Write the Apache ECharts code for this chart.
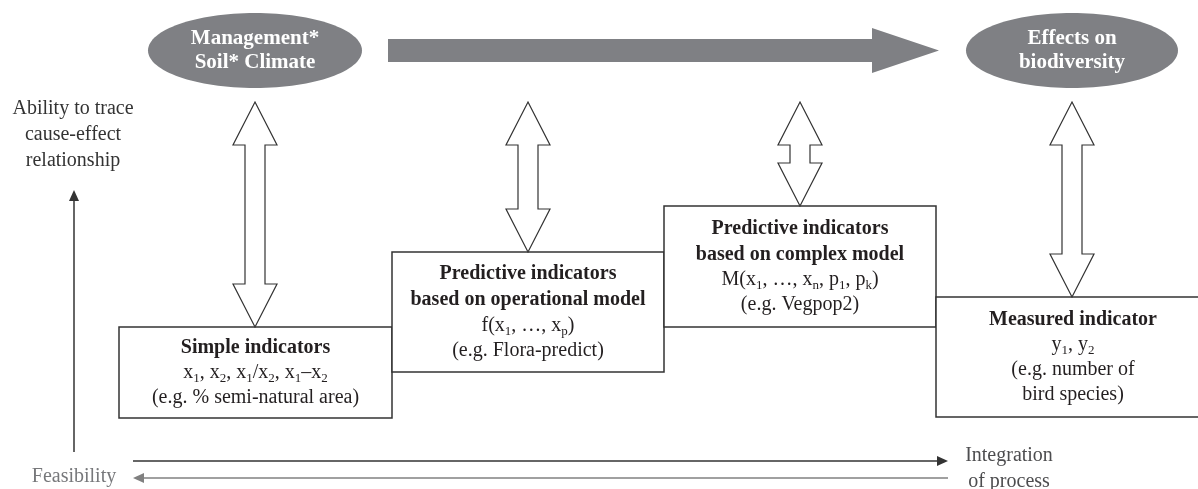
<!DOCTYPE html>
<html>
<head>
<meta charset="utf-8">
<title>Indicators diagram</title>
<script src="https://cdn.jsdelivr.net/npm/echarts@6/dist/echarts.min.js"></script>
<style>
  html, body { margin: 0; padding: 0; background: #fff; }
  #chart { width: 1198px; height: 489px; }
</style>
</head>
<body>
<div id="chart"></div>
<script>
// diagram units: x to the right, y downwards (the y axis is inverted)
const boxNames = [
  "Simple indicators",
  "Predictive indicators\nbased on operational model",
  "Predictive indicators\nbased on complex model",
  "Measured indicator"
];
const boxFormulas = [
  "x{s|1}, x{s|2}, x{s|1}/x{s|2}, x{s|1}–x{s|2}",
  "f(x{s|1}, …, x{s|p})",
  "M(x{s|1}, …, x{s|n}, p{s|1}, p{s|k})",
  "y{s|1}, y{s|2}"
];
const boxExamples = [
  "(e.g. % semi-natural area)",
  "(e.g. Flora-predict)",
  "(e.g. Vegpop2)",
  "(e.g. number of\nbird species)"
];
const boxLeft = [119, 392, 664, 936];
const boxRight = [392, 664, 936, 1210];
const boxTop = [327, 252, 206, 297];
const boxBottom = [418, 372, 327, 417];

// hollow double arrows between the ovals and the boxes
const linkX = [255, 528, 800, 1072];
const linkTop = [102, 102, 102, 102];

// grey ovals
const ovalText = ["Management*\nSoil* Climate", "Effects on\nbiodiversity"];
const ovalX = [255, 1072];
const ovalY = [50.5, 50.5];
const ovalRx = [107, 106];
const ovalRy = [37.5, 37.5];

// big grey arrow: start, tip, centre line
const flowArrow = [388, 939, 50.5];

// thin arrows: [x0, y0, x1, y1] (head at x1, y1)
const thinArrows = [
  [74, 452, 74, 190],
  [133, 461, 948, 461],
  [948, 478, 133, 478]
];
const thinColors = ["#333333", "#333333", "#808080"];

// free text
const sideText = ["Ability to trace\ncause-effect\nrelationship", "Feasibility", "Integration\nof process"];
const sideX = [73, 74, 1009];
const sideY = [135, 477, 469];
const sideColors = ["#333333", "#77787b", "#4d4d4f"];

const SERIF = "Liberation Serif, Times New Roman, serif";
const GREY = "#7f8084";
const INK = "#231f20";

function renderBox(params, api) {
  let i = params.dataIndex;
  let p0 = api.coord([api.value(0), api.value(2)]);
  let p1 = api.coord([api.value(1), api.value(3)]);
  return {
    type: "group",
    children: [
      {
        type: "rect",
        shape: { x: p0[0], y: p0[1], width: p1[0] - p0[0], height: p1[1] - p0[1] },
        style: { fill: "#fff", stroke: "#333", lineWidth: 1.5 }
      },
      {
        type: "text",
        x: (p0[0] + Math.min(p1[0], api.getWidth() + 12)) / 2,
        y: (p0[1] + p1[1]) / 2,
        style: {
          text: "{b|" + boxNames[i] + "}\n" + boxFormulas[i] + "\n" + boxExamples[i],
          fontFamily: SERIF,
          fontSize: 20,
          lineHeight: 25,
          fill: INK,
          align: "center",
          verticalAlign: "middle",
          rich: {
            b: { fontFamily: SERIF, fontWeight: "bold", fontSize: 20, lineHeight: 26, fill: INK },
            s: { fontFamily: SERIF, fontSize: 13, lineHeight: 13, verticalAlign: "bottom", fill: INK }
          }
        }
      }
    ]
  };
}

function renderLink(params, api) {
  let x = api.value(0);
  let top = api.coord([x, api.value(1)]);
  let bot = api.coord([x, api.value(2)]);
  let cx = top[0], hl = 43, hw = 22, sw = 10;
  return {
    type: "polygon",
    shape: {
      points: [
        [cx, top[1]], [cx + hw, top[1] + hl], [cx + sw, top[1] + hl],
        [cx + sw, bot[1] - hl], [cx + hw, bot[1] - hl], [cx, bot[1]],
        [cx - hw, bot[1] - hl], [cx - sw, bot[1] - hl],
        [cx - sw, top[1] + hl], [cx - hw, top[1] + hl]
      ]
    },
    style: { fill: "#fff", stroke: "#333", lineWidth: 1.2 }
  };
}

function renderOval(params, api) {
  let i = params.dataIndex;
  let c = api.coord([api.value(0), api.value(1)]);
  let e = api.coord([api.value(0) + api.value(2), api.value(1) + api.value(3)]);
  return {
    type: "group",
    children: [
      {
        type: "ellipse",
        shape: { cx: c[0], cy: c[1], rx: e[0] - c[0], ry: e[1] - c[1] },
        style: { fill: GREY }
      },
      {
        type: "text",
        x: c[0],
        y: c[1],
        style: {
          text: ovalText[i],
          fontFamily: SERIF,
          fontWeight: "bold",
          fontSize: 21,
          lineHeight: 24,
          fill: "#fff",
          align: "center",
          verticalAlign: "middle"
        }
      }
    ]
  };
}

function renderFlow(params, api) {
  let a = api.coord([api.value(0), api.value(2)]);
  let b = api.coord([api.value(1), api.value(2)]);
  let y = a[1], base = b[0] - 67;
  return {
    type: "polygon",
    shape: {
      points: [
        [a[0], y - 11.5], [base, y - 11.5], [base, y - 22.5], [b[0], y],
        [base, y + 22.5], [base, y + 11.5], [a[0], y + 11.5]
      ]
    },
    style: { fill: GREY }
  };
}

function renderThin(params, api) {
  let a = api.coord([api.value(0), api.value(1)]);
  let b = api.coord([api.value(2), api.value(3)]);
  let col = thinColors[params.dataIndex];
  let dx = b[0] - a[0], dy = b[1] - a[1];
  let len = Math.sqrt(dx * dx + dy * dy);
  let ux = dx / len, uy = dy / len;
  let hl = 11, hw = 5;
  let bx = b[0] - ux * hl, by = b[1] - uy * hl;
  return {
    type: "group",
    children: [
      {
        type: "line",
        shape: { x1: a[0], y1: a[1], x2: bx, y2: by },
        style: { stroke: col, lineWidth: 1.5 }
      },
      {
        type: "polygon",
        shape: { points: [[b[0], b[1]], [bx - uy * hw, by + ux * hw], [bx + uy * hw, by - ux * hw]] },
        style: { fill: col }
      }
    ]
  };
}

function renderText(params, api) {
  let i = params.dataIndex;
  let p = api.coord([api.value(0), api.value(1)]);
  return {
    type: "text",
    x: p[0],
    y: p[1],
    style: {
      text: sideText[i],
      fontFamily: SERIF,
      fontSize: 20,
      lineHeight: 26,
      fill: sideColors[i],
      align: "center",
      verticalAlign: "middle"
    }
  };
}

let myChart = echarts.init(document.getElementById("chart"));

let option = {
  animation: false,
  grid: { left: 0, right: 0, top: 0, bottom: 0 },
  xAxis: { type: "value", min: 0, max: 1198, show: false },
  yAxis: { type: "value", min: 0, max: 489, inverse: true, show: false },
  series: [
    {
      type: "custom",
      name: "boxes",
      renderItem: renderBox,
      data: boxLeft.map((l, i) => [l, boxRight[i], boxTop[i], boxBottom[i]]),
      z: 2
    },
    {
      type: "custom",
      name: "links",
      renderItem: renderLink,
      data: linkX.map((x, i) => [x, linkTop[i], boxTop[i]]),
      z: 3
    },
    {
      type: "custom",
      name: "ovals",
      renderItem: renderOval,
      data: ovalX.map((x, i) => [x, ovalY[i], ovalRx[i], ovalRy[i]]),
      z: 3
    },
    {
      type: "custom",
      name: "flow",
      renderItem: renderFlow,
      data: [flowArrow],
      z: 3
    },
    {
      type: "custom",
      name: "axes",
      renderItem: renderThin,
      data: thinArrows,
      z: 3
    },
    {
      type: "custom",
      name: "labels",
      renderItem: renderText,
      data: sideX.map((x, i) => [x, sideY[i]]),
      z: 4
    }
  ]
};

myChart.setOption(option);
</script>
</body>
</html>
